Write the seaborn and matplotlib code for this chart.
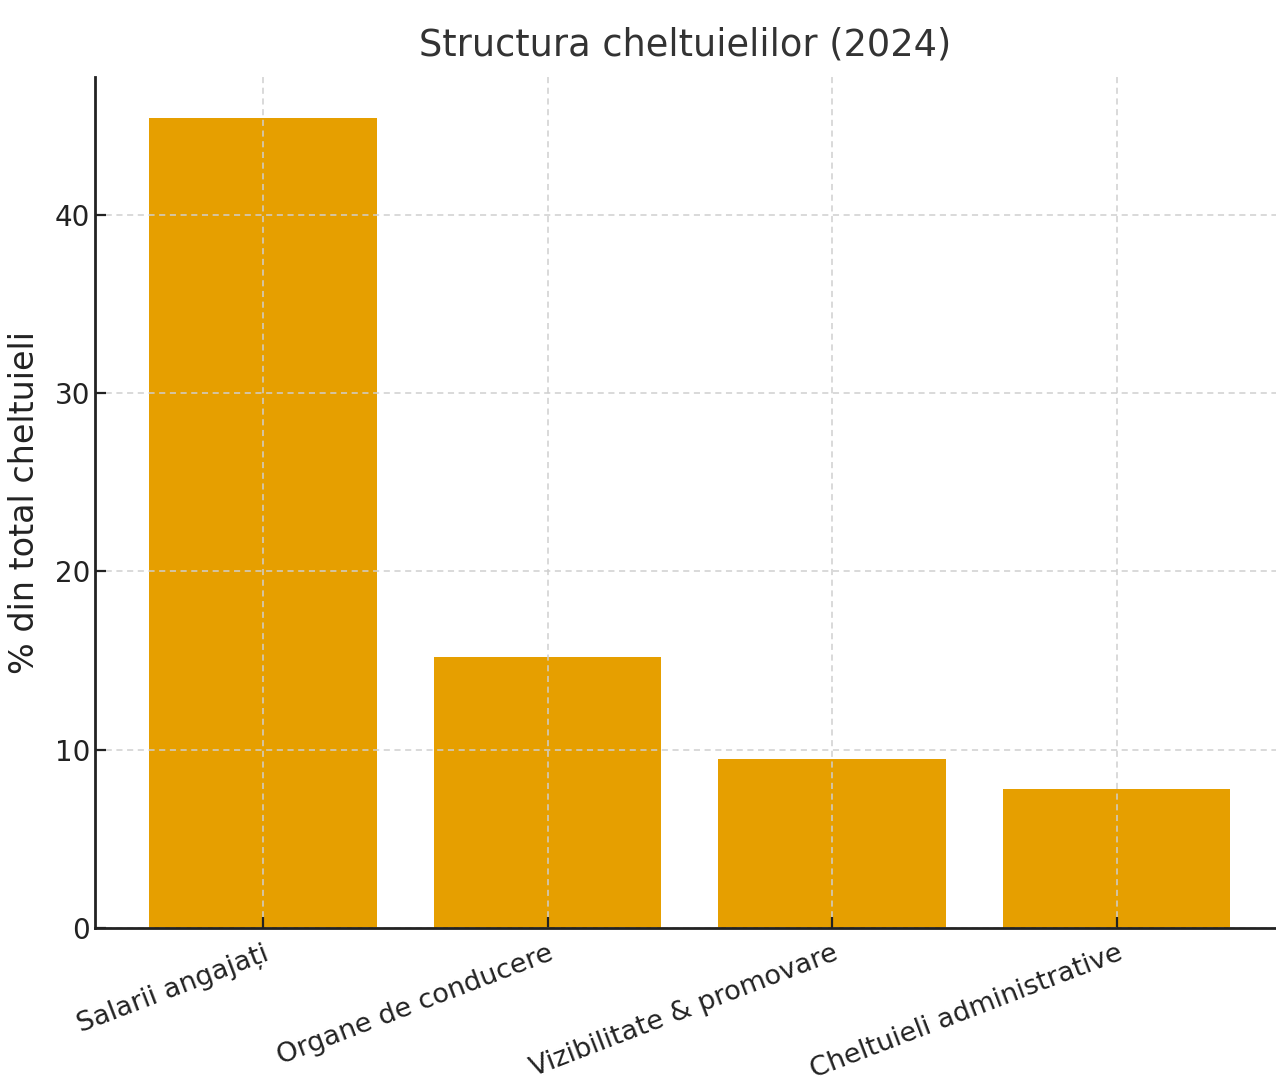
import numpy as np
import pandas as pd
import matplotlib
matplotlib.use("Agg")
import matplotlib.pyplot as plt
import seaborn as sns

# ----- Data -----
categories = ["Salarii angajați", "Organe de conducere",
              "Vizibilitate & promovare", "Cheltuieli administrative"]
shares = [45.4, 15.2, 9.5, 7.8]

df = pd.DataFrame({"categorie": categories, "procent": shares})

# ----- Style -----
sns.set_style("ticks")
plt.rcParams['font.family'] = ['DejaVu Sans']
plt.rcParams['axes.axisbelow'] = 'line'

fig = plt.figure(figsize=(12.76, 10.88), dpi=100)
ax = fig.add_axes([0.0745, 0.147, 0.9255, 0.782])

sns.barplot(data=df, x="categorie", y="procent", color="#E69F00",
            saturation=1, width=0.8, linewidth=0, ax=ax)

ax.set_xlim(-0.59, 3.56)
ax.set_ylim(0, 47.7)
ax.set_yticks([0, 10, 20, 30, 40])

ax.grid(True, linestyle=(0, (4, 3)), color="#cfcfcf", linewidth=1.1)

for side in ["top", "right"]:
    ax.spines[side].set_visible(False)
for side in ["left", "bottom"]:
    ax.spines[side].set_linewidth(2)
    ax.spines[side].set_color("#222222")

ax.tick_params(axis="both", direction="in", length=8, width=1.6,
               colors="#222222", labelsize=20)
ax.tick_params(axis="x", pad=9, labelsize=19.5)
plt.setp(ax.get_xticklabels(), rotation=21, ha="right", rotation_mode="anchor")

ax.set_xlabel("")
ax.set_ylabel("% din total cheltuieli", fontsize=24, color="#222222", labelpad=10)
ax.set_title("Structura cheltuielilor (2024)", fontsize=26.5, color="#333333", pad=16)

fig.savefig("out.png", dpi=100)
